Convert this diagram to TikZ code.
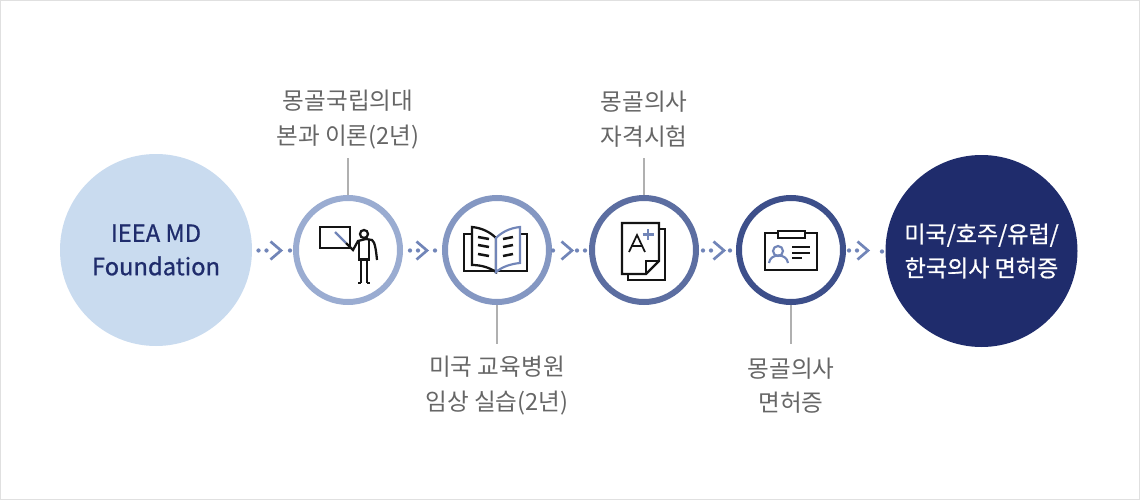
\documentclass[tikz,border=0pt]{standalone}
\usepackage{fontspec}
\setmainfont{Noto Sans CJK KR}
\newfontfamily\heavyfont[FakeBold=0.8]{Noto Sans CJK KR}
\usepackage{tikz}
\usetikzlibrary{positioning}
\definecolor{frameC}{RGB}{224,224,224}
\definecolor{stemC}{RGB}{176,176,176}
\definecolor{txtC}{RGB}{102,102,102}
\definecolor{navyC}{RGB}{31,44,108}
\definecolor{paleC}{RGB}{201,219,239}
\definecolor{ringA}{RGB}{154,172,209}
\definecolor{ringB}{RGB}{132,151,194}
\definecolor{ringC}{RGB}{92,110,161}
\definecolor{ringD}{RGB}{61,79,138}
\definecolor{arrowC}{RGB}{113,133,184}
\definecolor{iconC}{RGB}{20,20,20}
\tikzset{every picture/.style={line width=0.75pt}}
\tikzset{
  ring/.style={circle,draw=#1,line width=4.5pt,fill=white,minimum size=78pt,inner sep=0pt},
  blob/.style={circle,minimum size=144pt,inner sep=0pt,align=center},
  lbl/.style={text=txtC,font=\fontsize{17.7pt}{26pt}\selectfont,align=center,inner sep=0pt},
  stem/.style={draw=stemC,line width=1pt},
  dots/.style={draw=arrowC,line width=3.2pt,line cap=round,dash pattern=on 0pt off 6pt},
  chev/.style={draw=arrowC,line width=2pt},
  ico/.style={draw=iconC,line width=1.7pt},
  icoblue/.style={draw=arrowC,line width=1.6pt},
}
\begin{document}
\begin{tikzpicture}[x=0.75pt,y=0.75pt,yscale=-1,xscale=1]
\useasboundingbox (0,0) rectangle (1140,500);
\draw [frameC,line width=0.75pt] (0.5,0.5) rectangle (1139.5,499.5);

% Circles
\node [blob,fill=paleC,text=navyC,font=\heavyfont\fontsize{17.8pt}{25pt}\selectfont] (md) at (156,250) {IEEA MD\\Foundation};
\node [ring=ringA] (s1) at (348,250) {};
\node [ring=ringB] (s2) at (497,250) {};
\node [ring=ringC] (s3) at (644,250) {};
\node [ring=ringD] (s4) at (791,250) {};
\node [blob,fill=navyC,text=white,font=\heavyfont\fontsize{17.3pt}{25.5pt}\selectfont] (lic) at (981.5,251) {미국/호주/유럽/\\한국의사 면허증};

% Labels
\node [lbl] (t1) at (348,119.5) {몽골국립의대\\본과 이론(2년)};
\node [lbl] (t2) at (497,385.5) {미국 교육병원\\임상 실습(2년)};
\node [lbl] (t3) at (644,119.5) {몽골의사\\자격시험};
\node [lbl] (t4) at (791,385.5) {몽골의사\\면허증};
\coordinate (t1s) at (348,158);
\coordinate (t2s) at (497,344);
\coordinate (t3s) at (644,158);
\coordinate (t4s) at (791,344);
\draw [stem] (t1s) -- (s1.north);
\draw [stem] (s2.south) -- (t2s);
\draw [stem] (t3s) -- (s3.north);
\draw [stem] (s4.south) -- (t4s);

% Dotted arrows
\foreach \a/\b/\c/\p/\l/\q/\r in {md/s1/281/6/8.2/-3/-0.1,s1/s2/427/7/8.2/-7/-0.1,s2/s3/572/1/0.1/-4/-8.2,s3/s4/724/4/8.2/-6/-0.1,s4/lic/868/3/8.2/-3/-0.1}{
  \draw [dots] (\a.east) ++(\p,0.5) -- ++(\l,0);
  \draw [dots] (\b.west) ++(\q,0.5) -- ++(\r,0);
  \draw [chev] (\c-10.5,241.5) -- (\c,250.5) -- (\c-10.5,259.5);
}

% Teacher icon
\draw [ico] (320,227) rectangle (350,248);
\draw [icoblue] (335,232) -- (346,243);
\draw [ico] (346,243) -- (353,250) -- (358,241) -- (366,239) -- (372,240) .. controls (375,242) and (376,250) .. (377,260);
\draw [ico] (364,234) circle (4);
\draw [ico] (359,241) -- (359,259.5) -- (369,259.5) -- (369,240);
\draw [ico] (361,259.5) -- (361,283) (367,259.5) -- (367,283) (358,283) -- (361,283) (367,283) -- (370,283);

% Book icon
\draw [ico] (472,234) -- (464,234) -- (464,271) -- (527,271) -- (527,234) -- (520,234);
\draw [ico,fill=white] (472,227) .. controls (482,228) and (490,232) .. (496,238) -- (496,272) .. controls (490,268) and (482,265) .. (472,265) -- cycle;
\draw [icoblue,fill=white] (496,238) .. controls (502,232) and (510,228) .. (520,227) -- (520,263) .. controls (510,264) and (502,267) .. (496,272) -- cycle;
\foreach \y in {237,245,254}{
  \draw [iconC,line width=1.9pt] (478,\y) -- (489,\y+2);
  \draw [iconC,line width=1.9pt] (503,\y+2) -- (513,\y);
}

% Paper icon
\draw [ico] (628,274) -- (628,280) -- (665,280) -- (665,229) -- (659,229);
\draw [ico] (622,223) -- (659,223) -- (659,261) -- (646,274) -- (622,274) -- cycle;
\draw [ico] (646,274) -- (646,261) -- (659,261);
\draw [iconC,line width=1.3pt] (629,252) -- (637,235) -- (645,252) (632,246) -- (642,246);
\draw [icoblue] (648,229) -- (648,240) (642.5,234.5) -- (653.5,234.5);

% Id card icon
\draw [ico] (765,233) rectangle (817,270);
\draw [ico,fill=white] (778,231) rectangle (805,238);
\draw [icoblue] (778,251) circle (5);
\draw [icoblue] (769,263) .. controls (770,253) and (787,253) .. (788,263);
\draw [iconC,line width=1.5pt] (792,247) -- (810,247) (792,252.5) -- (810,252.5) (792,258) -- (802,258);
\end{tikzpicture}
\end{document}
